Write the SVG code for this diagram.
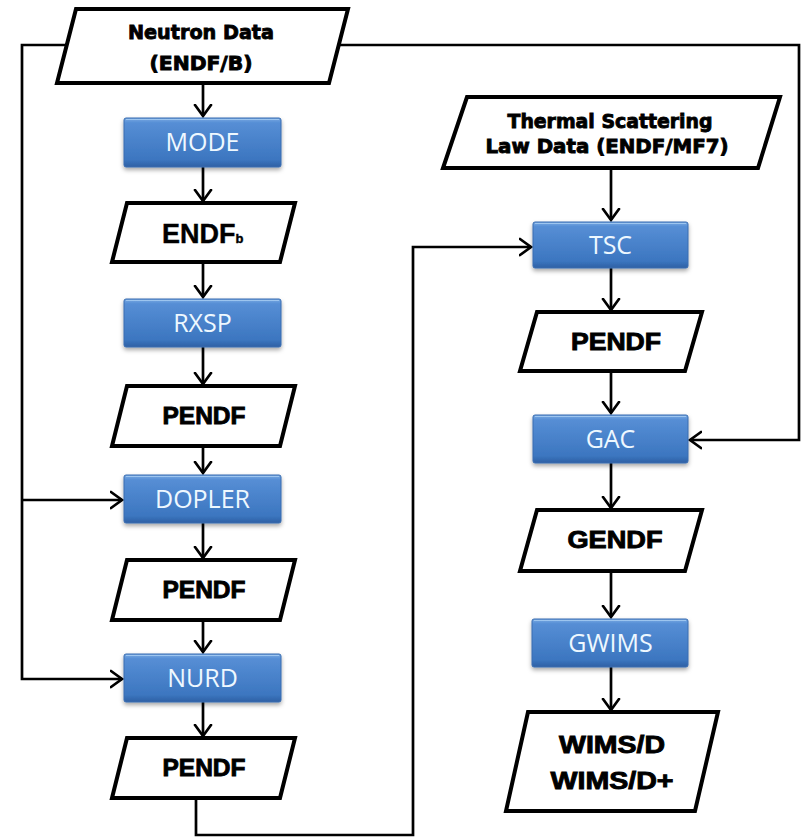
<svg xmlns="http://www.w3.org/2000/svg" width="804" height="838" viewBox="0 0 804 838">
  <defs>
    <linearGradient id="blueFill" x1="0" y1="0" x2="0" y2="1">
      <stop offset="0" stop-color="#79AAE3"/>
      <stop offset="0.1" stop-color="#568ED5"/>
      <stop offset="0.85" stop-color="#3C76C0"/>
      <stop offset="1" stop-color="#2D60A4"/>
    </linearGradient>
    <filter id="softShadow" x="-10%" y="-20%" width="120%" height="150%">
      <feDropShadow dx="0" dy="2.5" stdDeviation="2" flood-color="#000" flood-opacity="0.35"/>
    </filter>
    <marker id="arrow" markerUnits="userSpaceOnUse" markerWidth="24" markerHeight="24" viewBox="-12 -12 24 24" refX="0" refY="0" orient="auto">
      <path d="M-11,-8 L0,0 L-11,8" fill="none" stroke="#000" stroke-width="2.7" stroke-linecap="round" stroke-linejoin="miter"/>
    </marker>
    <style>
      .data { fill: #fff; stroke: #000; stroke-width: 4; stroke-linejoin: miter; }
      .proc { fill: url(#blueFill); stroke: #3A6DB0; stroke-width: 1; filter: url(#softShadow); }
      .hl { fill: none; stroke: #A6CBF2; stroke-width: 1.2; opacity: 0.85; }
      .ptext { font-family: "Open Sans", "Noto Sans", "DejaVu Sans", sans-serif; font-size: 25px; fill: #EEF8FF; text-anchor: middle; }
      .dtext { font-family: "Liberation Sans", Arial, sans-serif; font-weight: bold; font-size: 24px; fill: #000; stroke: #000; stroke-width: 0.9; text-anchor: middle; }
      .htext { font-family: "DejaVu Sans", "Liberation Sans", sans-serif; font-weight: bold; font-size: 20px; fill: #000; stroke: #000; stroke-width: 0.9; text-anchor: middle; }
      .link { fill: none; stroke: #000; stroke-width: 2.7; stroke-linejoin: miter; }
      .arr { marker-end: url(#arrow); }
    </style>
  </defs>

  <rect width="804" height="838" fill="#fff"/>

  <!-- connectors -->
  <g id="connectors">
    <!-- Neutron Data feeds DOPLER and NURD along the left rail -->
    <polyline class="link" points="67,45 22,45 22,679 122,679" marker-end="url(#arrow)"/>
    <polyline class="link" points="22,500 122,500" marker-end="url(#arrow)"/>
    <!-- Neutron Data feeds GAC along the right rail -->
    <polyline class="link" points="339,45 799,45 799,440 690,440" marker-end="url(#arrow)"/>
    <!-- left chain -->
    <line class="link arr" x1="203" y1="85" x2="203" y2="116"/>
    <line class="link arr" x1="203" y1="167" x2="203" y2="201"/>
    <line class="link arr" x1="203" y1="264" x2="203" y2="297"/>
    <line class="link arr" x1="203" y1="347" x2="203" y2="384"/>
    <line class="link arr" x1="203" y1="448" x2="203" y2="473"/>
    <line class="link arr" x1="203" y1="523" x2="203" y2="558"/>
    <line class="link arr" x1="203" y1="622" x2="203" y2="652"/>
    <line class="link arr" x1="203" y1="702" x2="203" y2="736"/>
    <!-- last PENDF goes over to TSC -->
    <polyline class="link" points="196,800 196,835 413,835 413,247 531,247" marker-end="url(#arrow)"/>
    <!-- right chain -->
    <line class="link arr" x1="611" y1="170" x2="611" y2="220"/>
    <line class="link arr" x1="611" y1="268" x2="611" y2="310"/>
    <line class="link arr" x1="611" y1="373" x2="611" y2="413"/>
    <line class="link arr" x1="611" y1="463" x2="611" y2="508"/>
    <line class="link arr" x1="611" y1="573" x2="611" y2="617"/>
    <line class="link arr" x1="611" y1="667" x2="611" y2="710"/>
  </g>

  <!-- input data -->
  <g id="neutron-data">
    <polygon class="data" points="76,9 348,9 329,83 57,83"/>
    <text class="htext" x="201" y="39" textLength="146" lengthAdjust="spacingAndGlyphs">Neutron Data</text>
    <text class="htext" x="201" y="70" textLength="103" lengthAdjust="spacingAndGlyphs">(ENDF/B)</text>
  </g>

  <g id="thermal-data">
    <polygon class="data" points="467,97 780,97 758,168 443,168"/>
    <text class="htext" x="610" y="128" textLength="205" lengthAdjust="spacingAndGlyphs">Thermal Scattering</text>
    <text class="htext" x="607" y="153" textLength="243" lengthAdjust="spacingAndGlyphs">Law Data (ENDF/MF7)</text>
  </g>

  <!-- left column -->
  <g id="mode">
    <rect class="proc" x="124" y="118" width="157" height="49" rx="2"/>
    <line class="hl" x1="126" y1="119.5" x2="279" y2="119.5"/>
    <text class="ptext" x="202.5" y="151">MODE</text>
  </g>

  <g id="endfb">
    <polygon class="data" points="127,203 295,203 280,262 112,262"/>
    <text font-family="Liberation Sans, Arial, sans-serif" font-weight="bold" font-size="27" fill="#000" stroke="#000" stroke-width="0.4" x="162" y="243">ENDF<tspan font-size="13">b</tspan></text>
  </g>

  <g id="rxsp">
    <rect class="proc" x="124" y="299" width="157" height="48" rx="2"/>
    <line class="hl" x1="126" y1="300.5" x2="279" y2="300.5"/>
    <text class="ptext" x="202.5" y="332">RXSP</text>
  </g>

  <g id="pendf-1">
    <polygon class="data" points="127,386 295,386 280,446 112,446"/>
    <text class="dtext" x="204" y="424" textLength="83" lengthAdjust="spacingAndGlyphs">PENDF</text>
  </g>

  <g id="dopler">
    <rect class="proc" x="124" y="475" width="157" height="48" rx="2"/>
    <line class="hl" x1="126" y1="476.5" x2="279" y2="476.5"/>
    <text class="ptext" x="202.5" y="508">DOPLER</text>
  </g>

  <g id="pendf-2">
    <polygon class="data" points="127,560 295,560 280,620 112,620"/>
    <text class="dtext" x="204" y="598" textLength="83" lengthAdjust="spacingAndGlyphs">PENDF</text>
  </g>

  <g id="nurd">
    <rect class="proc" x="124" y="654" width="157" height="48" rx="2"/>
    <line class="hl" x1="126" y1="655.5" x2="279" y2="655.5"/>
    <text class="ptext" x="202.5" y="687">NURD</text>
  </g>

  <g id="pendf-3">
    <polygon class="data" points="127,738 295,738 280,798 112,798"/>
    <text class="dtext" x="204" y="776" textLength="83" lengthAdjust="spacingAndGlyphs">PENDF</text>
  </g>

  <!-- right column -->
  <g id="tsc">
    <rect class="proc" x="533" y="222" width="155" height="46" rx="2"/>
    <line class="hl" x1="535" y1="223.5" x2="686" y2="223.5"/>
    <text class="ptext" x="610.5" y="254">TSC</text>
  </g>

  <g id="pendf-4">
    <polygon class="data" points="537,312 702,312 685,371 520,371"/>
    <text class="dtext" x="616" y="350" textLength="90" lengthAdjust="spacingAndGlyphs">PENDF</text>
  </g>

  <g id="gac">
    <rect class="proc" x="533" y="415" width="155" height="48" rx="2"/>
    <line class="hl" x1="535" y1="416.5" x2="686" y2="416.5"/>
    <text class="ptext" x="610.5" y="448">GAC</text>
  </g>

  <g id="gendf">
    <polygon class="data" points="537,510 702,510 685,571 520,571"/>
    <text class="dtext" x="615" y="548" textLength="95" lengthAdjust="spacingAndGlyphs">GENDF</text>
  </g>

  <g id="gwims">
    <rect class="proc" x="532" y="619" width="156" height="48" rx="2"/>
    <line class="hl" x1="534" y1="620.5" x2="686" y2="620.5"/>
    <text class="ptext" x="610.5" y="652">GWIMS</text>
  </g>

  <g id="wims">
    <polygon class="data" points="528,712 718,712 695,811 506,811"/>
    <text class="dtext" x="612" y="753" textLength="106" lengthAdjust="spacingAndGlyphs">WIMS/D</text>
    <text class="dtext" x="612" y="789" textLength="123" lengthAdjust="spacingAndGlyphs">WIMS/D+</text>
  </g>
</svg>
